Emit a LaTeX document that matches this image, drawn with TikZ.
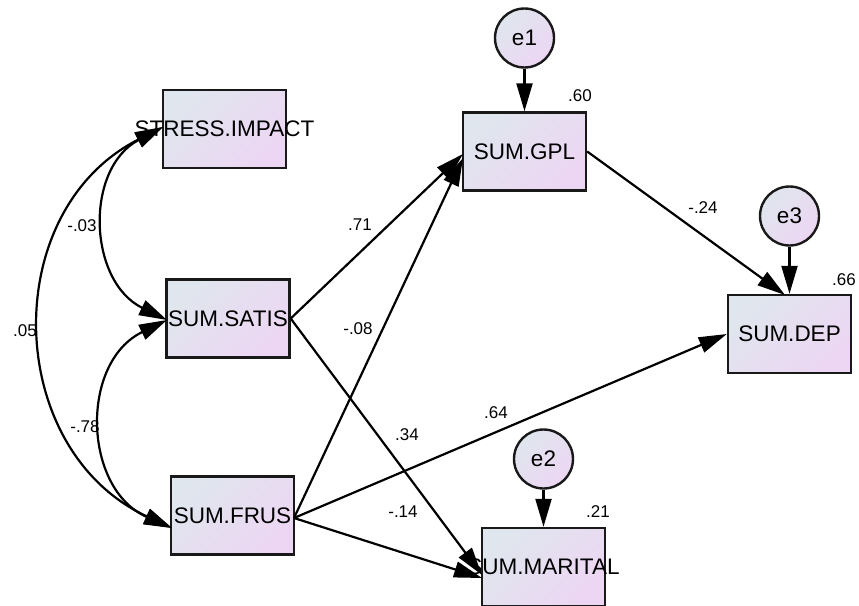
\documentclass[tikz,border=0pt]{standalone}
\usepackage{fontspec}
\setmainfont{Liberation Sans}
\usetikzlibrary{arrows.meta}
\definecolor{boxL}{RGB}{223,230,238}
\definecolor{boxR}{RGB}{237,214,243}
\definecolor{edge}{RGB}{25,25,25}
\begin{document}
\begin{tikzpicture}[x=1pt,y=-1pt,
  obs/.style={draw=edge, line width=2.4pt, top color=boxL, bottom color=boxR, shading angle=45,
    minimum width=123pt, minimum height=78pt, inner sep=0pt, font=\fontsize{22.5}{27}\selectfont},
  err/.style={circle, draw=edge, line width=2.4pt, top color=boxL, bottom color=boxR, shading angle=45,
    minimum size=59pt, inner sep=0pt, font=\fontsize{22.5}{27}\selectfont},
  regarrow/.style={draw=black, line width=2.2pt, -{Triangle[length=28pt,width=16pt]}},
  covarrow/.style={draw=black, line width=2.2pt, {Triangle[length=28pt,width=16pt]}-{Triangle[length=28pt,width=16pt]}},
  coef/.style={font=\fontsize{17}{20}\selectfont, inner sep=0pt}
]
\useasboundingbox (0,0) rectangle (859,605);

% observed variables
\node[obs] (stress)  at (224.5,129)   {\makebox[0pt]{STRESS.IMPACT}};
\node[obs] (satis)   at (228,318.5)   {\makebox[0pt]{SUM.SATIS}};
\node[obs] (frus)    at (232.5,515.5) {\makebox[0pt]{SUM.FRUS}};
\node[obs] (gpl)     at (524.5,151.5) {\makebox[0pt]{SUM.GPL}};
\node[obs] (dep)     at (789.5,334)   {\makebox[0pt]{SUM.DEP}};
\node[obs] (marital) at (543.5,567)   {\makebox[0pt]{SUM.MARITAL}};

% error terms
\node[err] (e1) at (524.5,38)  {e1};
\node[err] (e3) at (789.5,216) {e3};
\node[err] (e2) at (543.5,459) {e2};

% connector end points
\coordinate (stressTip)   at (163,127);
\coordinate (satisTip)    at (167,320);
\coordinate (frusTip)     at (172,528);
\coordinate (frusOut)     at (294,518);
\coordinate (gplTipA)     at (463,154);
\coordinate (gplTipB)     at (463,158);
\coordinate (maritalTipA) at (482,575);
\coordinate (maritalTipB) at (482,578);
\coordinate (depTopTip)   at (785,295);

% regression paths
\draw[regarrow] (satis.east) -- (gplTipA);
\draw[regarrow] (frusOut) -- (gplTipB);
\draw[regarrow] (satis.east) -- (maritalTipA);
\draw[regarrow] (frusOut) -- (maritalTipB);
\draw[regarrow] (frusOut) -- (dep.west);
\draw[regarrow] (gpl.east) -- (depTopTip);
\draw[regarrow] (e1.south) -- (gpl.north);
\draw[regarrow] (e3.south) -- (dep.north);
\draw[regarrow] (e2.south) -- (marital.north);

% covariances
\draw[covarrow] (stressTip) .. controls (84.1,168.9) and (88.1,281.3) .. (satisTip);
\draw[covarrow] (satisTip) .. controls (79.4,362.6) and (83,489) .. (frusTip);
\draw[covarrow] (stressTip) .. controls (-2.5,211.1) and (3.6,450) .. (frusTip);

% coefficients
\node[coef] (r60)  at (580,96)  {.60};
\node[coef] (r66)  at (844,280) {.66};
\node[coef] (r21)  at (598,512) {.21};
\node[coef] (c24)  at (703,208) {-.24};
\node[coef] (c71)  at (360,225) {.71};
\node[coef] (c08)  at (358,329) {-.08};
\node[coef] (c34)  at (407,435) {.34};
\node[coef] (c64)  at (496,413) {.64};
\node[coef] (c14)  at (403,512) {-.14};
\node[coef] (c03)  at (82,226)  {-.03};
\node[coef] (c05)  at (25,331)  {.05};
\node[coef] (c78)  at (85,427)  {-.78};
\end{tikzpicture}
\end{document}
